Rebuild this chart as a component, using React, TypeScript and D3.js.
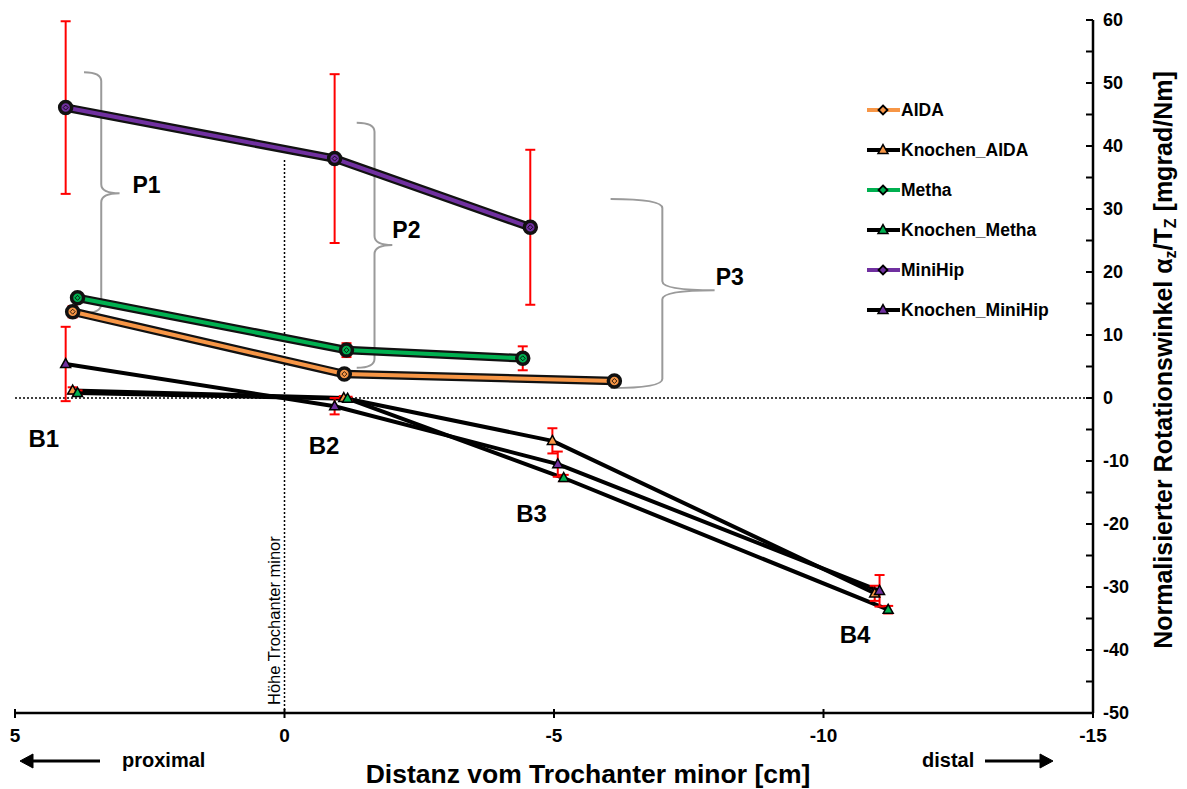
import React from 'react';
import * as d3 from 'd3';

const W = 1187;
const H = 789;

// axes
const xTicks = [5, 0, -5, -10, -15];
const yTicks = [60, 50, 40, 30, 20, 10, 0, -10, -20, -30, -40, -50];
const yMinorTicks = [55, 45, 35, 25, 15, 5, -5, -15, -25, -35, -45];

// implant series (P1..P3)
const aidaX = [3.93, -1.11, -6.12];
const aidaY = [13.7, 3.8, 2.7];
const aidaErr = [0.9, 0.5, 0.5];

const methaX = [3.84, -1.15, -4.42];
const methaY = [15.9, 7.6, 6.3];
const methaErr = [0.7, 1.1, 1.9];

const miniHipX = [4.06, -0.93, -4.56];
const miniHipY = [46.1, 38.0, 27.1];
const miniHipErr = [13.7, 13.4, 12.3];

// bone series (B1..B4)
const knAidaX = [3.93, -1.1, -4.97, -10.95];
const knAidaY = [1.2, 0.0, -6.8, -31.0];
const knAidaErr = [0.5, 0.3, 2.0, 1.2];

const knMethaX = [3.84, -1.17, -5.18, -11.2];
const knMethaY = [0.8, -0.1, -12.7, -33.6];
const knMethaErr = [0.4, 0.3, 0.5, 0.6];

const knMiniX = [4.06, -0.93, -5.07, -11.04];
const knMiniY = [5.4, -1.3, -10.5, -30.6];
const knMiniErr = [5.9, 1.3, 2.0, 2.5];

const legendNames = ['AIDA', 'Knochen_AIDA', 'Metha', 'Knochen_Metha', 'MiniHip', 'Knochen_MiniHip'];

// bracket annotations (data units)
const braceLabels = ['P1', 'P2', 'P3'];
const braceX0 = [3.72, -1.34, -6.05];
const braceX1 = [3.4, -1.67, -7.01];
const braceTip = [3.06, -2.0, -7.98];
const braceTop = [51.7, 43.7, 31.6];
const braceMid = [32.5, 24.3, 17.1];
const braceBot = [13.5, 4.8, 1.6];
const braceLabelX = [2.82, -2.0, -8.0];
const braceLabelY = [32.5, 25.4, 17.9];

const boneLabels = ['B1', 'B2', 'B3', 'B4'];
const boneLabelX = [4.75, -0.45, -4.3, -10.3];
const boneLabelY = [-7.7, -8.9, -19.7, -38.9];

const ORANGE = '#F79646';
const GREEN = '#00B050';
const PURPLE = '#7030A0';
const RED = '#FF0000';

const NARROW = "'Liberation Sans Narrow', 'Arial Narrow', 'Liberation Sans', Arial, sans-serif";
const SANS = "'Liberation Sans', Arial, Helvetica, sans-serif";

const x = d3.scaleLinear().domain([5, -15]).range([15, 1093]);
const y = d3.scaleLinear().domain([60, -50]).range([20, 713]);

type S = { name: string; xs: number[]; ys: number[]; err: number[]; color: string };

const implants: S[] = [
  { name: 'AIDA', xs: aidaX, ys: aidaY, err: aidaErr, color: ORANGE },
  { name: 'Metha', xs: methaX, ys: methaY, err: methaErr, color: GREEN },
  { name: 'MiniHip', xs: miniHipX, ys: miniHipY, err: miniHipErr, color: PURPLE },
];
const bones: S[] = [
  { name: 'Knochen_AIDA', xs: knAidaX, ys: knAidaY, err: knAidaErr, color: ORANGE },
  { name: 'Knochen_Metha', xs: knMethaX, ys: knMethaY, err: knMethaErr, color: GREEN },
  { name: 'Knochen_MiniHip', xs: knMiniX, ys: knMiniY, err: knMiniErr, color: PURPLE },
];
const legendColors = [ORANGE, ORANGE, GREEN, GREEN, PURPLE, PURPLE];

const line = d3.line<[number, number]>().x((d) => x(d[0])).y((d) => y(d[1]));
const pts = (s: S): [number, number][] => s.xs.map((v, i) => [v, s.ys[i]]);

function tri(cx: number, cy: number, s: number) {
  const h = s * 0.9;
  return `M${cx},${cy - h * 0.6}L${cx + s / 2},${cy + h * 0.4}L${cx - s / 2},${cy + h * 0.4}Z`;
}
function diamond(cx: number, cy: number, r: number) {
  return `M${cx},${cy - r}L${cx + r},${cy}L${cx},${cy + r}L${cx - r},${cy}Z`;
}

function ErrorBars({ s }: { s: S }) {
  return (
    <g stroke={RED} strokeWidth={2} fill="none">
      {s.xs.map((v, i) => {
        const cx = x(v);
        const y1 = y(s.ys[i] + s.err[i]);
        const y2 = y(s.ys[i] - s.err[i]);
        return (
          <g key={i}>
            <line x1={cx} x2={cx} y1={y1} y2={y2} />
            <line x1={cx - 5} x2={cx + 5} y1={y1} y2={y1} />
            <line x1={cx - 5} x2={cx + 5} y1={y2} y2={y2} />
          </g>
        );
      })}
    </g>
  );
}

export default function App() {
  const braces = braceLabels.map((lab, i) => {
    const x0 = x(braceX0[i]);
    const x1 = x(braceX1[i]);
    const tp = x(braceTip[i]);
    const t = y(braceTop[i]);
    const m = y(braceMid[i]);
    const b = y(braceBot[i]);
    const r = 9;
    const d = `M${x0},${t} Q${x1},${t} ${x1},${t + r} L${x1},${m - r} Q${x1},${m} ${tp},${m} Q${x1},${m} ${x1},${m + r} L${x1},${b - r} Q${x1},${b} ${x0},${b}`;
    return { d, lab, lx: x(braceLabelX[i]), ly: y(braceLabelY[i]) };
  });

  return (
    <svg width={W} height={H} style={{ position: 'absolute', left: 0, top: 0, background: '#fff' }}>
      {/* reference dotted lines */}
      <line x1={x(5)} x2={x(-15)} y1={y(0)} y2={y(0)} stroke="#000" strokeWidth={1.5} strokeDasharray="2,2" />
      <line x1={x(0)} x2={x(0)} y1={160} y2={y(-50)} stroke="#000" strokeWidth={1.5} strokeDasharray="2,2" />
      <text
        transform={`translate(${x(0) - 5},${y(-50) - 8}) rotate(-90)`}
        fontFamily={SANS}
        fontSize={16.5}
        fill="#000"
      >
        Höhe Trochanter minor
      </text>

      {/* braces */}
      {braces.map((b) => (
        <g key={b.lab}>
          <path d={b.d} fill="none" stroke="#9a9a9a" strokeWidth={2} />
          <text x={b.lx} y={b.ly} fontFamily={SANS} fontWeight="bold" fontSize={23} fill="#000">
            {b.lab}
          </text>
        </g>
      ))}

      {/* bone lines */}
      {bones.map((s) => (
        <path key={s.name} d={line(pts(s)) || ''} fill="none" stroke="#000" strokeWidth={4} strokeLinejoin="round" />
      ))}
      {bones.map((s) => (
        <ErrorBars key={s.name} s={s} />
      ))}
      {bones.map((s) => (
        <g key={s.name}>
          {s.xs.map((v, i) => (
            <path key={i} d={tri(x(v), y(s.ys[i]), 10)} fill={s.color} stroke="#000" strokeWidth={1.5} />
          ))}
        </g>
      ))}

      {/* implant lines */}
      {implants.map((s) => (
        <g key={s.name}>
          <path d={line(pts(s)) || ''} fill="none" stroke="#111" strokeWidth={8.5} strokeLinejoin="round" strokeLinecap="round" />
          <path d={line(pts(s)) || ''} fill="none" stroke={s.color} strokeWidth={4} strokeLinejoin="round" />
        </g>
      ))}
      {implants.map((s) => (
        <ErrorBars key={s.name} s={s} />
      ))}
      {implants.map((s) => (
        <g key={s.name}>
          {s.xs.map((v, i) => (
            <g key={i}>
              <circle cx={x(v)} cy={y(s.ys[i])} r={6} fill={s.color} stroke="#111" strokeWidth={3.5} />
              <path d={diamond(x(v), y(s.ys[i]), 2.5)} fill={s.color} stroke="#000" strokeWidth={0.8} />
            </g>
          ))}
        </g>
      ))}

      {/* bone labels */}
      {boneLabels.map((l, i) => (
        <text key={l} x={x(boneLabelX[i])} y={y(boneLabelY[i])} fontFamily={SANS} fontWeight="bold" fontSize={24} fill="#000">
          {l}
        </text>
      ))}

      {/* x axis */}
      <line x1={x(5)} x2={x(-15)} y1={y(-50)} y2={y(-50)} stroke="#000" strokeWidth={2.5} />
      {xTicks.map((t) => (
        <g key={t}>
          <line x1={x(t)} x2={x(t)} y1={y(-50) - 4} y2={y(-50) + 5} stroke="#000" strokeWidth={2} />
          <text x={x(t)} y={y(-50) + 29} textAnchor="middle" fontFamily={NARROW} fontWeight="bold" fontSize={19} fill="#000">
            {t}
          </text>
        </g>
      ))}
      <text x={588} y={783} textAnchor="middle" fontFamily={NARROW} fontWeight="bold" fontSize={26.5} fill="#000">
        Distanz vom Trochanter minor [cm]
      </text>
      <text x={122} y={767} fontFamily={NARROW} fontWeight="bold" fontSize={20} fill="#000">
        proximal
      </text>
      <text x={922} y={767} fontFamily={NARROW} fontWeight="bold" fontSize={20} fill="#000">
        distal
      </text>
      <g stroke="#000" strokeWidth={3} fill="#000">
        <line x1={100} x2={28} y1={761} y2={761} />
        <path d="M20,761 L33,754 L33,768 Z" strokeWidth={1} />
        <line x1={985} x2={1045} y1={761} y2={761} />
        <path d="M1053,761 L1040,754 L1040,768 Z" strokeWidth={1} />
      </g>

      {/* y axis (right) */}
      <line x1={x(-15)} x2={x(-15)} y1={y(60)} y2={y(-50)} stroke="#000" strokeWidth={2.5} />
      {yTicks.map((t) => (
        <g key={t}>
          <line x1={x(-15) - 7} x2={x(-15)} y1={y(t)} y2={y(t)} stroke="#000" strokeWidth={2} />
          <text x={x(-15) + 10} y={y(t) + 6} fontFamily={SANS} fontWeight="bold" fontSize={18} fill="#000">
            {t}
          </text>
        </g>
      ))}
      {yMinorTicks.map((t) => (
        <line key={t} x1={x(-15) - 7} x2={x(-15)} y1={y(t)} y2={y(t)} stroke="#000" strokeWidth={2} />
      ))}
      <text
        transform={`translate(1172,360) rotate(-90)`}
        textAnchor="middle"
        fontFamily={NARROW}
        fontWeight="bold"
        fontSize={25}
        fill="#000"
      >
        Normalisierter Rotationswinkel α
        <tspan dy={4} fontSize={16}>z</tspan>
        <tspan dy={-4}>/T</tspan>
        <tspan dy={4} fontSize={16}>Z</tspan>
        <tspan dy={-4}> [mgrad/Nm]</tspan>
      </text>

      {/* legend */}
      {legendNames.map((n, i) => {
        const ly = 110 + i * 40;
        const isBone = n.startsWith('Knochen');
        const c = legendColors[i];
        return (
          <g key={n}>
            <line x1={867} x2={900} y1={ly} y2={ly} stroke={isBone ? '#000' : c} strokeWidth={4} />
            {isBone ? (
              <path d={tri(883, ly, 10)} fill={c} stroke="#000" strokeWidth={1.5} />
            ) : (
              <path d={diamond(883, ly, 4.5)} fill={c} stroke="#000" strokeWidth={1.8} />
            )}
            <text x={901} y={ly + 6} fontFamily={SANS} fontWeight="bold" fontSize={17.5} fill="#000">
              {n}
            </text>
          </g>
        );
      })}
    </svg>
  );
}
